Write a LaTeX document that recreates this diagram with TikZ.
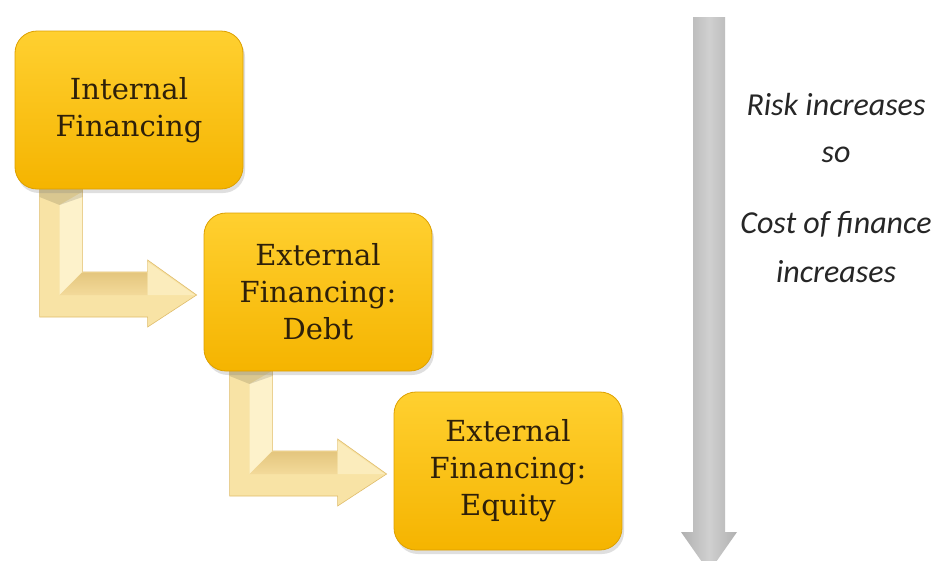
\documentclass[tikz,border=0pt]{standalone}
\usepackage{fontspec}
\setmainfont{DejaVu Serif}
\newfontfamily\calib{Carlito}
\usetikzlibrary{calc,shadows,backgrounds}
\definecolor{goldT}{HTML}{FFD030}
\definecolor{goldB}{HTML}{F5B400}
\definecolor{goldE}{HTML}{DDA000}
\definecolor{arrBase}{HTML}{F8E3A5}
\definecolor{arrLight}{HTML}{FDF2CB}
\definecolor{arrDarkT}{HTML}{E4C67E}
\definecolor{arrDarkB}{HTML}{F3DA9A}
\definecolor{arrEdge}{HTML}{E0BD6C}
\definecolor{txt}{HTML}{2E200A}
\definecolor{grayEdge}{HTML}{B0B0B0}
\definecolor{grayMid}{HTML}{D0D0D0}
\begin{document}
\begin{tikzpicture}[x=1pt,y=-1pt,
  box/.style={rounded corners=22pt, minimum width=228pt, minimum height=158pt,
    top color=goldT, bottom color=goldB, draw=goldE, line width=0.8pt,
    align=center, text=txt, font=\fontsize{29}{37}\selectfont,
    drop shadow={opacity=0.25, shadow xshift=2pt, shadow yshift=-4pt}},
  bentout/.style={fill=arrBase, draw=arrEdge, line width=0.6pt},
  bentlight/.style={fill=arrLight},
  bentdark/.style={top color=arrDarkT, bottom color=arrDarkB},
  grayarrow/.style={left color=grayEdge, right color=grayEdge, middle color=grayMid, draw=none},
  sidetext/.style={anchor=base, text=black!85, font=\calib\itshape\fontsize{32}{40}\selectfont}]
\useasboundingbox (0,0) rectangle (943,560);

% boxes
\node[box] (b1) at (129,110) {Internal\\Financing};
\node[box] (b2) at (318,292) {External\\Financing:\\Debt};
\node[box] (b3) at (508,471) {External\\Financing:\\Equity};

% background and bent arrows (behind boxes)
\begin{scope}[on background layer]
\fill[white] (0,0) rectangle (943,560);
\foreach \s/\t [count=\i] in {b1/b2, b2/b3}{
  \coordinate (tip\i) at ($(\t.west)+(-7,3)$);
  \begin{scope}[shift={(tip\i)}]
    \path[bentout] (-157,-110) -- (-157,22) -- (-49,22) -- (-49,32) -- (0,0)
      -- (-49,-35) -- (-49,-23) -- (-114,-23) -- (-114,-110) -- cycle;
    \path[bentlight] (-137,-90) -- (-114.5,-103) -- (-114.5,-23) -- (-137,0) -- cycle;
    \path[bentdark] (-114.5,-22.5) -- (-49,-22.5) -- (-49,0) -- (-137,0) -- cycle;
    \path[fill=arrLight!60!arrBase] (-49,-33) -- (-2,0) -- (-49,0) -- cycle;
    \path[fill=black, opacity=0.12] (-157,-110) -- (-114,-110) -- (-114,-98) -- (-137,-90) -- (-157,-98) -- cycle;
  \end{scope}
}
\end{scope}

% gray arrow
\coordinate (gt) at (709,17);
\coordinate (gb) at (709,572);
\path[grayarrow] ($(gt)+(-16,0)$) -- ($(gb)+(-16,-40)$) -- ($(gb)+(-28,-40)$) -- (gb)
  -- ($(gb)+(28,-40)$) -- ($(gb)+(16,-40)$) -- ($(gt)+(16,0)$) -- cycle;

% side text
\node[sidetext] (r1) at (836,115) {Risk increases};
\node[sidetext] (r2) at (836,162) {so};
\node[sidetext] (r3) at (836,233) {Cost of finance};
\node[sidetext] (r4) at (836,282) {increases};
\end{tikzpicture}
\end{document}
